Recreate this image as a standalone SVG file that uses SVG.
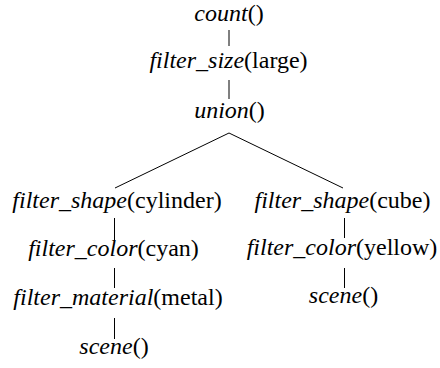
<svg xmlns="http://www.w3.org/2000/svg" width="440" height="368" viewBox="0 0 440 368">
<style>
  text { font-family: "Liberation Serif", "Times New Roman", serif; font-size: 24px; fill: #000; text-anchor: middle; }
  .fn { font-style: italic; }
  .edge { stroke: #000; stroke-width: 1; fill: none; }
</style>
<rect width="440" height="368" fill="#fff"/>
<g id="edges">
  <line class="edge" x1="229" y1="30" x2="229" y2="46"/>
  <line class="edge" x1="229" y1="80" x2="229" y2="99"/>
  <line class="edge" x1="229" y1="133" x2="115" y2="188"/>
  <line class="edge" x1="229" y1="133" x2="343" y2="188"/>
  <line class="edge" x1="114.5" y1="218" x2="114.5" y2="240"/>
  <line class="edge" x1="114.5" y1="268" x2="114.5" y2="288"/>
  <line class="edge" x1="114.5" y1="318" x2="114.5" y2="339"/>
  <line class="edge" x1="344.5" y1="218" x2="344.5" y2="238"/>
  <line class="edge" x1="344.5" y1="268" x2="344.5" y2="288"/>
</g>
<g id="count"><text x="229" y="21"><tspan class="fn">count</tspan>()</text></g>
<g id="filter_size"><text x="228.5" y="68"><tspan class="fn">filter_size</tspan>(large)</text></g>
<g id="union"><text x="229.5" y="118"><tspan class="fn">union</tspan>()</text></g>
<g id="shape_cylinder"><text x="117" y="208"><tspan class="fn">filter_shape</tspan>(cylinder)</text></g>
<g id="color_cyan"><text x="113.5" y="256"><tspan class="fn">filter_color</tspan>(cyan)</text></g>
<g id="material_metal"><text x="118" y="305"><tspan class="fn">filter_material</tspan>(metal)</text></g>
<g id="scene_left"><text x="114" y="354"><tspan class="fn">scene</tspan>()</text></g>
<g id="shape_cube"><text x="342.5" y="208"><tspan class="fn">filter_shape</tspan>(cube)</text></g>
<g id="color_yellow"><text x="342" y="255"><tspan class="fn">filter_color</tspan>(yellow)</text></g>
<g id="scene_right"><text x="343.5" y="303"><tspan class="fn">scene</tspan>()</text></g>
</svg>
